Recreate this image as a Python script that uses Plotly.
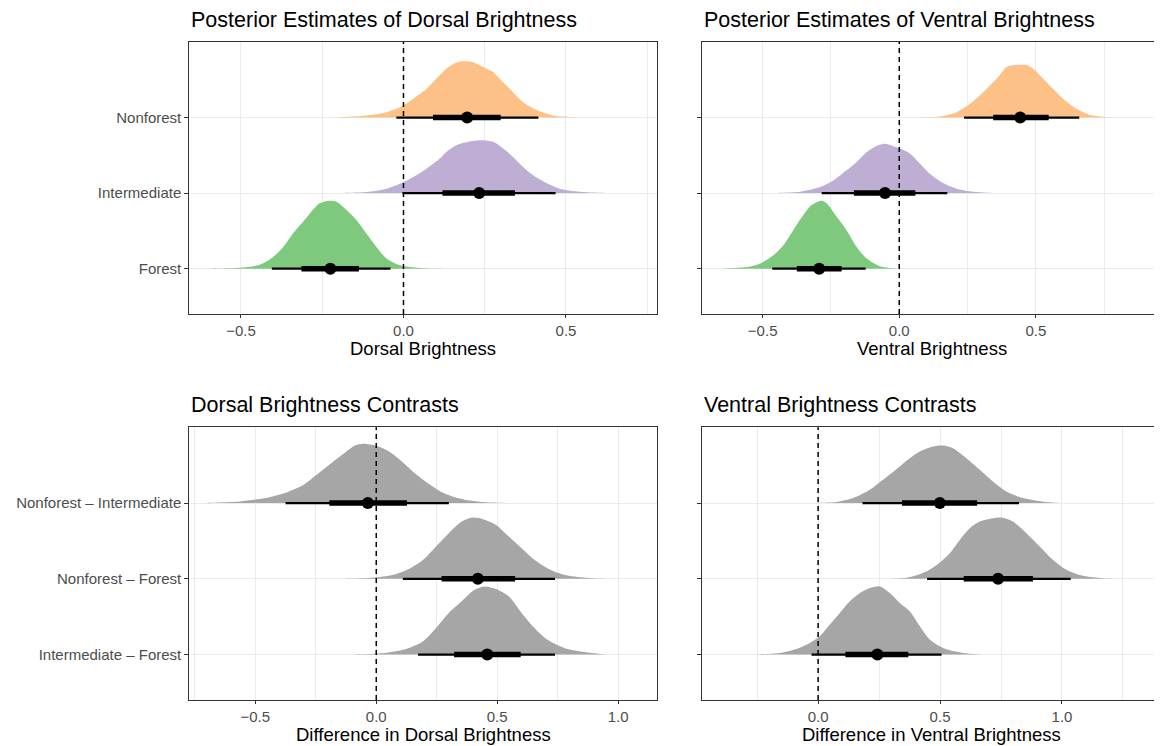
import plotly.graph_objects as go

# ---------------- data ----------------
# Panel 1: posterior estimates of dorsal brightness (rows bottom -> top)
dorsal_cats = ["Forest", "Intermediate", "Nonforest"]
dorsal_median = [-0.225, 0.233, 0.196]
dorsal_lo66 = [-0.314, 0.120, 0.091]
dorsal_hi66 = [-0.137, 0.343, 0.299]
dorsal_lo95 = [-0.405, -0.003, -0.022]
dorsal_hi95 = [-0.040, 0.468, 0.415]

dorsal_forest_x = [-0.606, -0.504, -0.442, -0.401, -0.370, -0.340, -0.309, -0.288, -0.258, -0.227,
                   -0.206, -0.175, -0.145, -0.114, -0.083, -0.052, -0.011, 0.050, 0.132]
dorsal_forest_d = [0, 3, 12, 35, 65, 105, 140, 165, 195, 203, 200, 175, 145, 105, 65, 30, 10, 2, 0]
dorsal_inter_x = [-0.186, -0.114, -0.052, -0.006, 0.030, 0.071, 0.112, 0.132, 0.163, 0.204, 0.240,
                  0.276, 0.307, 0.337, 0.368, 0.399, 0.440, 0.481, 0.542, 0.604, 0.666]
dorsal_inter_d = [0, 3, 13, 30, 48, 73, 103, 123, 143, 154, 158, 153, 133, 108, 78, 53, 30, 13, 4, 1, 0]
dorsal_nonf_x = [-0.206, -0.114, -0.052, -0.006, 0.030, 0.071, 0.101, 0.132, 0.163, 0.189, 0.214,
                 0.245, 0.276, 0.296, 0.327, 0.368, 0.414, 0.460, 0.522, 0.583]
dorsal_nonf_d = [0, 6, 16, 33, 56, 86, 116, 146, 164, 168, 165, 151, 136, 116, 86, 46, 21, 6, 1, 0]

# Panel 2: posterior estimates of ventral brightness
ventral_cats = ["Forest", "Intermediate", "Nonforest"]
ventral_median = [-0.293, -0.052, 0.443]
ventral_lo66 = [-0.375, -0.166, 0.344]
ventral_hi66 = [-0.211, 0.059, 0.547]
ventral_lo95 = [-0.465, -0.284, 0.237]
ventral_hi95 = [-0.123, 0.176, 0.659]

ventral_forest_x = [-0.644, -0.558, -0.510, -0.461, -0.424, -0.388, -0.351, -0.321, -0.284, -0.266,
                    -0.229, -0.193, -0.156, -0.119, -0.071, -0.010]
ventral_forest_d = [0, 5, 15, 40, 70, 115, 160, 190, 203, 195, 155, 115, 65, 30, 7, 0]
ventral_inter_x = [-0.461, -0.363, -0.290, -0.241, -0.193, -0.156, -0.119, -0.083, -0.052, -0.022,
                   0.003, 0.039, 0.076, 0.112, 0.161, 0.210, 0.271, 0.356]
ventral_inter_d = [0, 4, 18, 38, 68, 93, 123, 141, 147, 140, 133, 118, 88, 58, 30, 13, 4, 0]
ventral_nonf_x = [0.039, 0.149, 0.210, 0.259, 0.295, 0.332, 0.362, 0.393, 0.417, 0.466, 0.490,
                  0.527, 0.563, 0.600, 0.649, 0.698, 0.771, 0.832]
ventral_nonf_d = [0, 3, 16, 41, 66, 96, 121, 151, 156, 157, 146, 116, 86, 56, 26, 8, 1, 0]

# Panel 3: dorsal brightness contrasts
contrast_cats = ["Intermediate \u2013 Forest", "Nonforest \u2013 Forest", "Nonforest \u2013 Intermediate"]
dcon_median = [0.459, 0.420, -0.035]
dcon_lo66 = [0.322, 0.270, -0.194]
dcon_hi66 = [0.597, 0.574, 0.127]
dcon_lo95 = [0.173, 0.110, -0.375]
dcon_hi95 = [0.739, 0.739, 0.300]

dcon_if_x = [-0.106, 0.035, 0.124, 0.194, 0.247, 0.300, 0.353, 0.406, 0.451, 0.495, 0.548, 0.601,
             0.654, 0.707, 0.777, 0.866, 0.954]
dcon_if_d = [0, 5, 17, 40, 80, 125, 160, 195, 205, 197, 175, 125, 80, 45, 20, 7, 0]
dcon_nff_x = [-0.141, -0.018, 0.071, 0.141, 0.194, 0.247, 0.300, 0.353, 0.398, 0.442, 0.495, 0.548,
              0.601, 0.654, 0.707, 0.777, 0.866, 0.954]
dcon_nff_d = [0, 3, 12, 32, 57, 97, 137, 172, 184, 179, 162, 127, 92, 57, 32, 12, 3, 0]
dcon_nfi_x = [-0.724, -0.565, -0.459, -0.371, -0.300, -0.247, -0.194, -0.141, -0.088, -0.053, 0.0,
              0.053, 0.106, 0.159, 0.212, 0.265, 0.336, 0.424, 0.565]
dcon_nfi_d = [0, 5, 15, 32, 55, 85, 115, 145, 173, 178, 172, 155, 125, 90, 60, 35, 15, 4, 0]

# Panel 4: ventral brightness contrasts
vcon_median = [0.243, 0.738, 0.499]
vcon_lo66 = [0.112, 0.597, 0.344]
vcon_hi66 = [0.370, 0.881, 0.652]
vcon_lo95 = [-0.027, 0.447, 0.182]
vcon_hi95 = [0.506, 1.036, 0.824]

vcon_if_x = [-0.253, -0.157, -0.089, -0.034, 0.007, 0.048, 0.089, 0.130, 0.171, 0.212, 0.253, 0.294,
             0.335, 0.376, 0.417, 0.458, 0.512, 0.594, 0.690]
vcon_if_d = [0, 5, 17, 35, 55, 90, 125, 160, 185, 200, 205, 185, 155, 130, 85, 45, 20, 5, 0]
vcon_nff_x = [0.253, 0.362, 0.444, 0.499, 0.540, 0.581, 0.622, 0.663, 0.717, 0.752, 0.799, 0.854,
              0.909, 0.963, 1.018, 1.086, 1.168, 1.236]
vcon_nff_d = [0, 3, 22, 49, 77, 117, 152, 172, 182, 184, 172, 137, 97, 57, 27, 9, 2, 0]
vcon_nfi_x = [-0.034, 0.075, 0.143, 0.212, 0.266, 0.321, 0.376, 0.417, 0.471, 0.512, 0.553, 0.608,
              0.663, 0.717, 0.772, 0.840, 0.922, 1.004]
vcon_nfi_d = [0, 3, 15, 40, 70, 102, 135, 155, 170, 173, 165, 135, 100, 65, 35, 15, 4, 0]

group_colors = ["#7FC97F", "#BEAED4", "#FDC086"]   # Forest, Intermediate, Nonforest (Accent)
contrast_color = "#A6A6A6"

# ---------------- figure ----------------
OFF = 8  # the page body has an 8px margin; the figure is shrunk so it still fills the window
W, H = 1162 - OFF, 746 - OFF
FONT = "Liberation Sans, Arial, Helvetica, sans-serif"
SCALE = 0.9  # tallest slab in a panel reaches 0.9 of the row spacing

fig = go.Figure()


def add_panel(idx, slabs, colors, median, lo66, hi66, lo95, hi95):
    xa = "x" if idx == 1 else f"x{idx}"
    ya = "y" if idx == 1 else f"y{idx}"
    dmax = max(max(d) for _, d in slabs)
    for row, ((xs, ds), col) in enumerate(zip(slabs, colors), start=1):
        top = [row + SCALE * d / dmax for d in ds]
        fig.add_trace(go.Scatter(
            x=list(xs) + list(xs[::-1]), y=top + [row] * len(xs),
            fill="toself", fillcolor=col, mode="lines",
            line=dict(width=0, color=col, shape="spline", smoothing=0.8),
            hoverinfo="skip", showlegend=False, xaxis=xa, yaxis=ya))
    for row in range(1, len(median) + 1):
        i = row - 1
        fig.add_trace(go.Scatter(x=[lo95[i], hi95[i]], y=[row, row], mode="lines",
                                 line=dict(color="black", width=2.2), showlegend=False,
                                 hoverinfo="skip", xaxis=xa, yaxis=ya))
        fig.add_trace(go.Scatter(x=[lo66[i], hi66[i]], y=[row, row], mode="lines",
                                 line=dict(color="black", width=5.5), showlegend=False,
                                 hoverinfo="skip", xaxis=xa, yaxis=ya))
        fig.add_trace(go.Scatter(x=[median[i]], y=[row], mode="markers",
                                 marker=dict(color="black", size=12, line=dict(width=0)),
                                 showlegend=False, xaxis=xa, yaxis=ya))
    fig.add_shape(type="line", xref=xa, yref=f"{ya} domain", x0=0, x1=0, y0=0, y1=1,
                  line=dict(color="black", width=1.5, dash="5px,4px"), layer="above")


add_panel(1, [(dorsal_forest_x, dorsal_forest_d), (dorsal_inter_x, dorsal_inter_d),
              (dorsal_nonf_x, dorsal_nonf_d)], group_colors,
          dorsal_median, dorsal_lo66, dorsal_hi66, dorsal_lo95, dorsal_hi95)
add_panel(2, [(ventral_forest_x, ventral_forest_d), (ventral_inter_x, ventral_inter_d),
              (ventral_nonf_x, ventral_nonf_d)], group_colors,
          ventral_median, ventral_lo66, ventral_hi66, ventral_lo95, ventral_hi95)
add_panel(3, [(dcon_if_x, dcon_if_d), (dcon_nff_x, dcon_nff_d), (dcon_nfi_x, dcon_nfi_d)],
          [contrast_color] * 3, dcon_median, dcon_lo66, dcon_hi66, dcon_lo95, dcon_hi95)
add_panel(4, [(vcon_if_x, vcon_if_d), (vcon_nff_x, vcon_nff_d), (vcon_nfi_x, vcon_nfi_d)],
          [contrast_color] * 3, vcon_median, vcon_lo66, vcon_hi66, vcon_lo95, vcon_hi95)

# panel geometry in window pixels: (left, right, top, bottom)
panels = {
    1: (189.3, 657.3, 42.0, 314.0),
    2: (702.3, 1161.2, 42.0, 314.0),
    3: (189.3, 657.3, 427.3, 700.0),
    4: (702.3, 1161.2, 427.3, 700.0),
}
xranges = {1: [-0.659, 0.781], 2: [-0.721, 0.959], 3: [-0.773, 1.162], 4: [-0.475, 1.407]}
xticks = {1: [-0.5, 0.0, 0.5], 2: [-0.5, 0.0, 0.5], 3: [-0.5, 0.0, 0.5, 1.0], 4: [0.0, 0.5, 1.0]}
xminor = {1: [-0.25, 0.25, 0.75], 2: [-0.25, 0.25, 0.75], 3: [-0.75, -0.25, 0.25, 0.75],
          4: [-0.25, 0.25, 0.75, 1.25]}
ylabels = {1: dorsal_cats, 2: None, 3: contrast_cats, 4: None}
titles = {1: "Posterior Estimates of Dorsal Brightness", 2: "Posterior Estimates of Ventral Brightness",
          3: "Dorsal Brightness Contrasts", 4: "Ventral Brightness Contrasts"}
xtitles = {1: "Dorsal Brightness", 2: "Ventral Brightness", 3: "Difference in Dorsal Brightness",
           4: "Difference in Ventral Brightness"}


def fmt(v):
    s = f"{abs(v):.1f}"
    return ("\u2212" + s) if v < 0 else s


def px(xw):
    return (xw - OFF) / W


def py(yw):
    return 1 - (yw - OFF) / H


layout = dict(width=W, height=H, margin=dict(l=0, r=0, t=0, b=0),
              paper_bgcolor="white", plot_bgcolor="white",
              font=dict(family=FONT, color="black"), showlegend=False)
annotations = []
for i, (l, r, t, b) in panels.items():
    key = "" if i == 1 else str(i)
    layout["xaxis" + key] = dict(
        domain=[px(l), min(px(r), 1.0)], range=xranges[i], anchor="y" + key,
        tickvals=xticks[i], ticktext=[fmt(v) for v in xticks[i]],
        ticks="outside", ticklen=3, tickwidth=1.1, tickcolor="#333333",
        tickfont=dict(size=15, color="#4D4D4D", family=FONT),
        showline=True, linecolor="#333333", linewidth=1.1, mirror=True,
        showgrid=True, gridcolor="#EBEBEB", gridwidth=1.1, zeroline=False,
        minor=dict(tickvals=xminor[i], showgrid=True, gridcolor="#EBEBEB", gridwidth=0.6, ticks=""),
        fixedrange=True)
    cats = ylabels[i]
    layout["yaxis" + key] = dict(
        domain=[py(b), py(t)], range=[0.4, 4.0], anchor="x" + key,
        tickvals=[1, 2, 3], ticktext=cats if cats else ["", "", ""],
        showticklabels=bool(cats),
        ticks="outside", ticklen=4, tickwidth=1.1, tickcolor="#333333",
        tickfont=dict(size=15, color="#4D4D4D", family=FONT),
        showline=True, linecolor="#333333", linewidth=1.1, mirror=True,
        showgrid=True, gridcolor="#EBEBEB", gridwidth=1.1, zeroline=False, fixedrange=True)
    annotations.append(dict(text=titles[i], xref="paper", yref="paper", x=px(l), xanchor="left",
                            y=py(t - 22.5), yanchor="middle", showarrow=False,
                            font=dict(size=21.5, color="black", family=FONT)))
    annotations.append(dict(text=xtitles[i], xref="paper", yref="paper", x=px((l + r) / 2),
                            xanchor="center", y=py(b + 34.5), yanchor="middle",
                            showarrow=False, font=dict(size=18.5, color="black", family=FONT)))
layout["annotations"] = annotations
fig.update_layout(**layout)

fig.write_html("out.html")
